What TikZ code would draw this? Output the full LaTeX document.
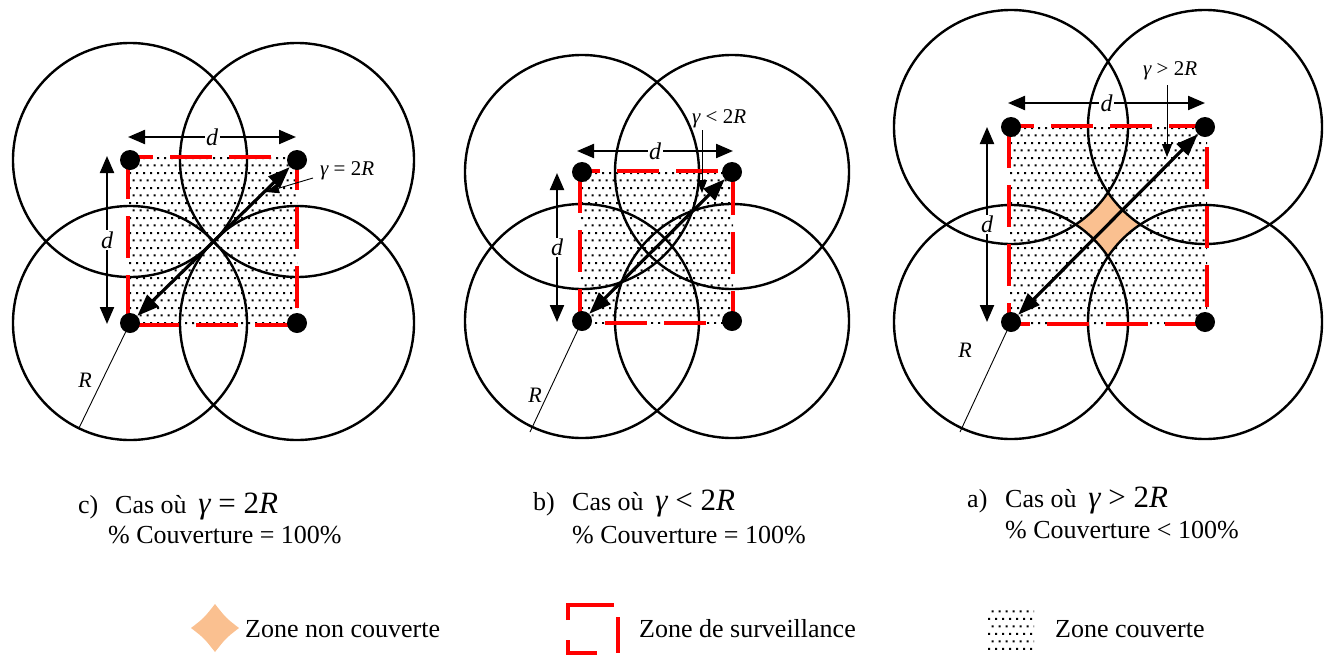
\documentclass[tikz,border=0pt]{standalone}
\usepackage{fontspec}
\setmainfont{Liberation Serif}
\usetikzlibrary{arrows.meta,patterns,backgrounds}
\definecolor{zorange}{RGB}{250,192,144}
\definecolor{zred}{RGB}{255,0,0}
\pgfdeclarepatternformonly{sdots}{\pgfqpoint{0pt}{0pt}}{\pgfqpoint{7.4pt}{14.8pt}}{\pgfqpoint{7.4pt}{14.8pt}}{%
  \pgfpathrectangle{\pgfqpoint{0.8pt}{2.6pt}}{\pgfqpoint{2.1pt}{2.1pt}}%
  \pgfpathrectangle{\pgfqpoint{4.5pt}{10pt}}{\pgfqpoint{2.1pt}{2.1pt}}%
  \pgfusepath{fill}}
\begin{document}
\begin{tikzpicture}[x=1pt,y=-1pt,
  sensornode/.style={circle,fill=black,minimum size=20pt,inner sep=0pt},
  rangecirc/.style={draw=black,line width=2.4pt},
  zonesq/.style={draw=zred,line width=4.5pt,dash pattern=on 42pt off 17pt},
  dimarrow/.style={line width=2.2pt,{Triangle[length=17pt,width=14pt]}-{Triangle[length=17pt,width=14pt]}},
  diagarrow/.style={line width=3.2pt,{Triangle[length=22pt,width=16pt]}-{Triangle[length=22pt,width=16pt]}},
  dlbl/.style={font=\fontsize{24}{26}\selectfont\itshape,fill=white,inner sep=1.5pt},
  glabel/.style={font=\fontsize{21}{23}\selectfont,anchor=base west,inner sep=0pt},
  rlbl/.style={font=\fontsize{22}{24}\selectfont\itshape,inner sep=0pt},
  pointerarrow/.style={line width=0.9pt,-{Triangle[length=13pt,width=10pt]}},
  rline/.style={line width=0.9pt},
  captxt/.style={font=\fontsize{26}{28}\selectfont,anchor=base west,inner sep=0pt},
  legtxt/.style={font=\fontsize{26}{28}\selectfont,anchor=base west,inner sep=0pt}]
\useasboundingbox (0,0) rectangle (1324,659);

% ---------- sensors ----------
\node[sensornode] (c-tl) at (130,160) {};
\node[sensornode] (c-tr) at (297,160) {};
\node[sensornode] (c-bl) at (130,323) {};
\node[sensornode] (c-br) at (297,323) {};
\node[sensornode] (b-tl) at (582,172) {};
\node[sensornode] (b-tr) at (732,172) {};
\node[sensornode] (b-bl) at (582,321) {};
\node[sensornode] (b-br) at (732,321) {};
\node[sensornode] (a-tl) at (1011,127) {};
\node[sensornode] (a-tr) at (1205,127) {};
\node[sensornode] (a-bl) at (1011,322) {};
\node[sensornode] (a-br) at (1205,322) {};

\begin{pgfonlayer}{background}
  % coverage
  \fill[pattern=sdots] (128,157) rectangle (297,325);
  \fill[pattern=sdots] (580,171) rectangle (733,323);
  \begin{scope}
    \clip (1009,126) rectangle (1207,324);
    \fill[zorange] (1009,126) rectangle (1207,324);
    \fill[white] (a-tl.center) circle[radius=117pt] (a-tr.center) circle[radius=117pt]
                 (a-bl.center) circle[radius=117pt] (a-br.center) circle[radius=117pt];
    \fill[pattern=sdots] (a-tl.center) circle[radius=117pt] (a-tr.center) circle[radius=117pt]
                 (a-bl.center) circle[radius=117pt] (a-br.center) circle[radius=117pt];
  \end{scope}
  % ranges
  \foreach \p in {c,b,a}{
    \foreach \q in {tl,tr,bl,br}{
      \draw[rangecirc] (\p-\q.center) circle[radius=117pt];
    }
  }
  % surveillance zones
  \draw[zonesq] (128,157) rectangle (297,325);
  \draw[zonesq] (580,171) rectangle (733,323);
  \draw[zonesq] (1009,126) rectangle (1207,324);
\end{pgfonlayer}

% ---------- case c ----------
\coordinate (c-h1) at (128,137);
\coordinate (c-h2) at (296,137);
\coordinate (c-v1) at (107,156);
\coordinate (c-v2) at (107,324);
\draw[dimarrow] (c-h1) -- node[dlbl] {d} (c-h2);
\draw[dimarrow] (c-v1) -- node[dlbl] {d} (c-v2);
\draw[diagarrow] (c-bl) -- (c-tr);
\node[glabel] (c-g) at (320,175) {{\itshape γ} = 2{\itshape R}};
\coordinate (c-p1) at (313,178);
\coordinate (c-p2) at (266,192);
\draw[pointerarrow] (c-p1) -- (c-p2);
\coordinate (c-r) at (79,428);
\draw[rline] (c-bl) -- (c-r);
\node[rlbl] (c-rl) at (85,380) {R};

% ---------- case b ----------
\coordinate (b-h1) at (577,151);
\coordinate (b-h2) at (733,151);
\coordinate (b-v1) at (557,173);
\coordinate (b-v2) at (557,322);
\draw[dimarrow] (b-h1) -- node[dlbl] {d} (b-h2);
\draw[dimarrow] (b-v1) -- node[dlbl] {d} (b-v2);
\draw[diagarrow] (b-bl) -- (b-tr);
\node[glabel] (b-g) at (692,123) {{\itshape γ} < 2{\itshape R}};
\coordinate (b-p1) at (702,130);
\coordinate (b-p2) at (702,193);
\draw[pointerarrow] (b-p1) -- (b-p2);
\coordinate (b-r) at (530,432);
\draw[rline] (b-bl) -- (b-r);
\node[rlbl] (b-rl) at (535,395) {R};

% ---------- case a ----------
\coordinate (a-h1) at (1008,103);
\coordinate (a-h2) at (1205,103);
\coordinate (a-v1) at (987,127);
\coordinate (a-v2) at (987,322);
\draw[dimarrow] (a-h1) -- node[dlbl] {d} (a-h2);
\draw[dimarrow] (a-v1) -- node[dlbl] {d} (a-v2);
\draw[diagarrow] (a-bl) -- (a-tr);
\node[glabel] (a-g) at (1143,75) {{\itshape γ} > 2{\itshape R}};
\coordinate (a-p1) at (1167,85);
\coordinate (a-p2) at (1167,157);
\draw[pointerarrow] (a-p1) -- (a-p2);
\coordinate (a-r) at (960,432);
\draw[rline] (a-bl) -- (a-r);
\node[rlbl] (a-rl) at (965,350) {R};

% ---------- captions ----------
\node[captxt] (c-cl) at (78,513) {c)};
\node[captxt] (c-c1) at (115,513) {Cas où {\fontsize{31}{33}\selectfont\,{\itshape γ} = 2{\itshape R}}};
\node[captxt] (c-c2) at (108,543) {\% Couverture = 100\%};
\node[captxt] (b-cl) at (533,510) {b)};
\node[captxt] (b-c1) at (572,510) {Cas où {\fontsize{31}{33}\selectfont\,{\itshape γ} < 2{\itshape R}}};
\node[captxt] (b-c2) at (572,543) {\% Couverture = 100\%};
\node[captxt] (a-cl) at (967,507) {a)};
\node[captxt] (a-c1) at (1005,507) {Cas où {\fontsize{31}{33}\selectfont\,{\itshape γ} > 2{\itshape R}}};
\node[captxt] (a-c2) at (1005,538) {\% Couverture < 100\%};

% ---------- legend ----------
\fill[zorange] (215,604) .. controls (226,618) .. (239,628) .. controls (226,638) .. (215,652)
  .. controls (204,638) .. (191,628) .. controls (204,618) .. cycle;
\node[legtxt] (l1) at (245,637) {Zone non couverte};
\draw[zred,line width=4pt] (568,620) -- (568,605) -- (614,605);
\draw[zred,line width=4pt] (618,617) -- (618,653);
\draw[zred,line width=4pt] (597,653) -- (568,653) -- (568,640);
\node[legtxt] (l2) at (639,637) {Zone de surveillance};
\fill[pattern=sdots] (987,607) rectangle (1034,653);
\node[legtxt] (l3) at (1055,637) {Zone couverte};
\end{tikzpicture}
\end{document}
